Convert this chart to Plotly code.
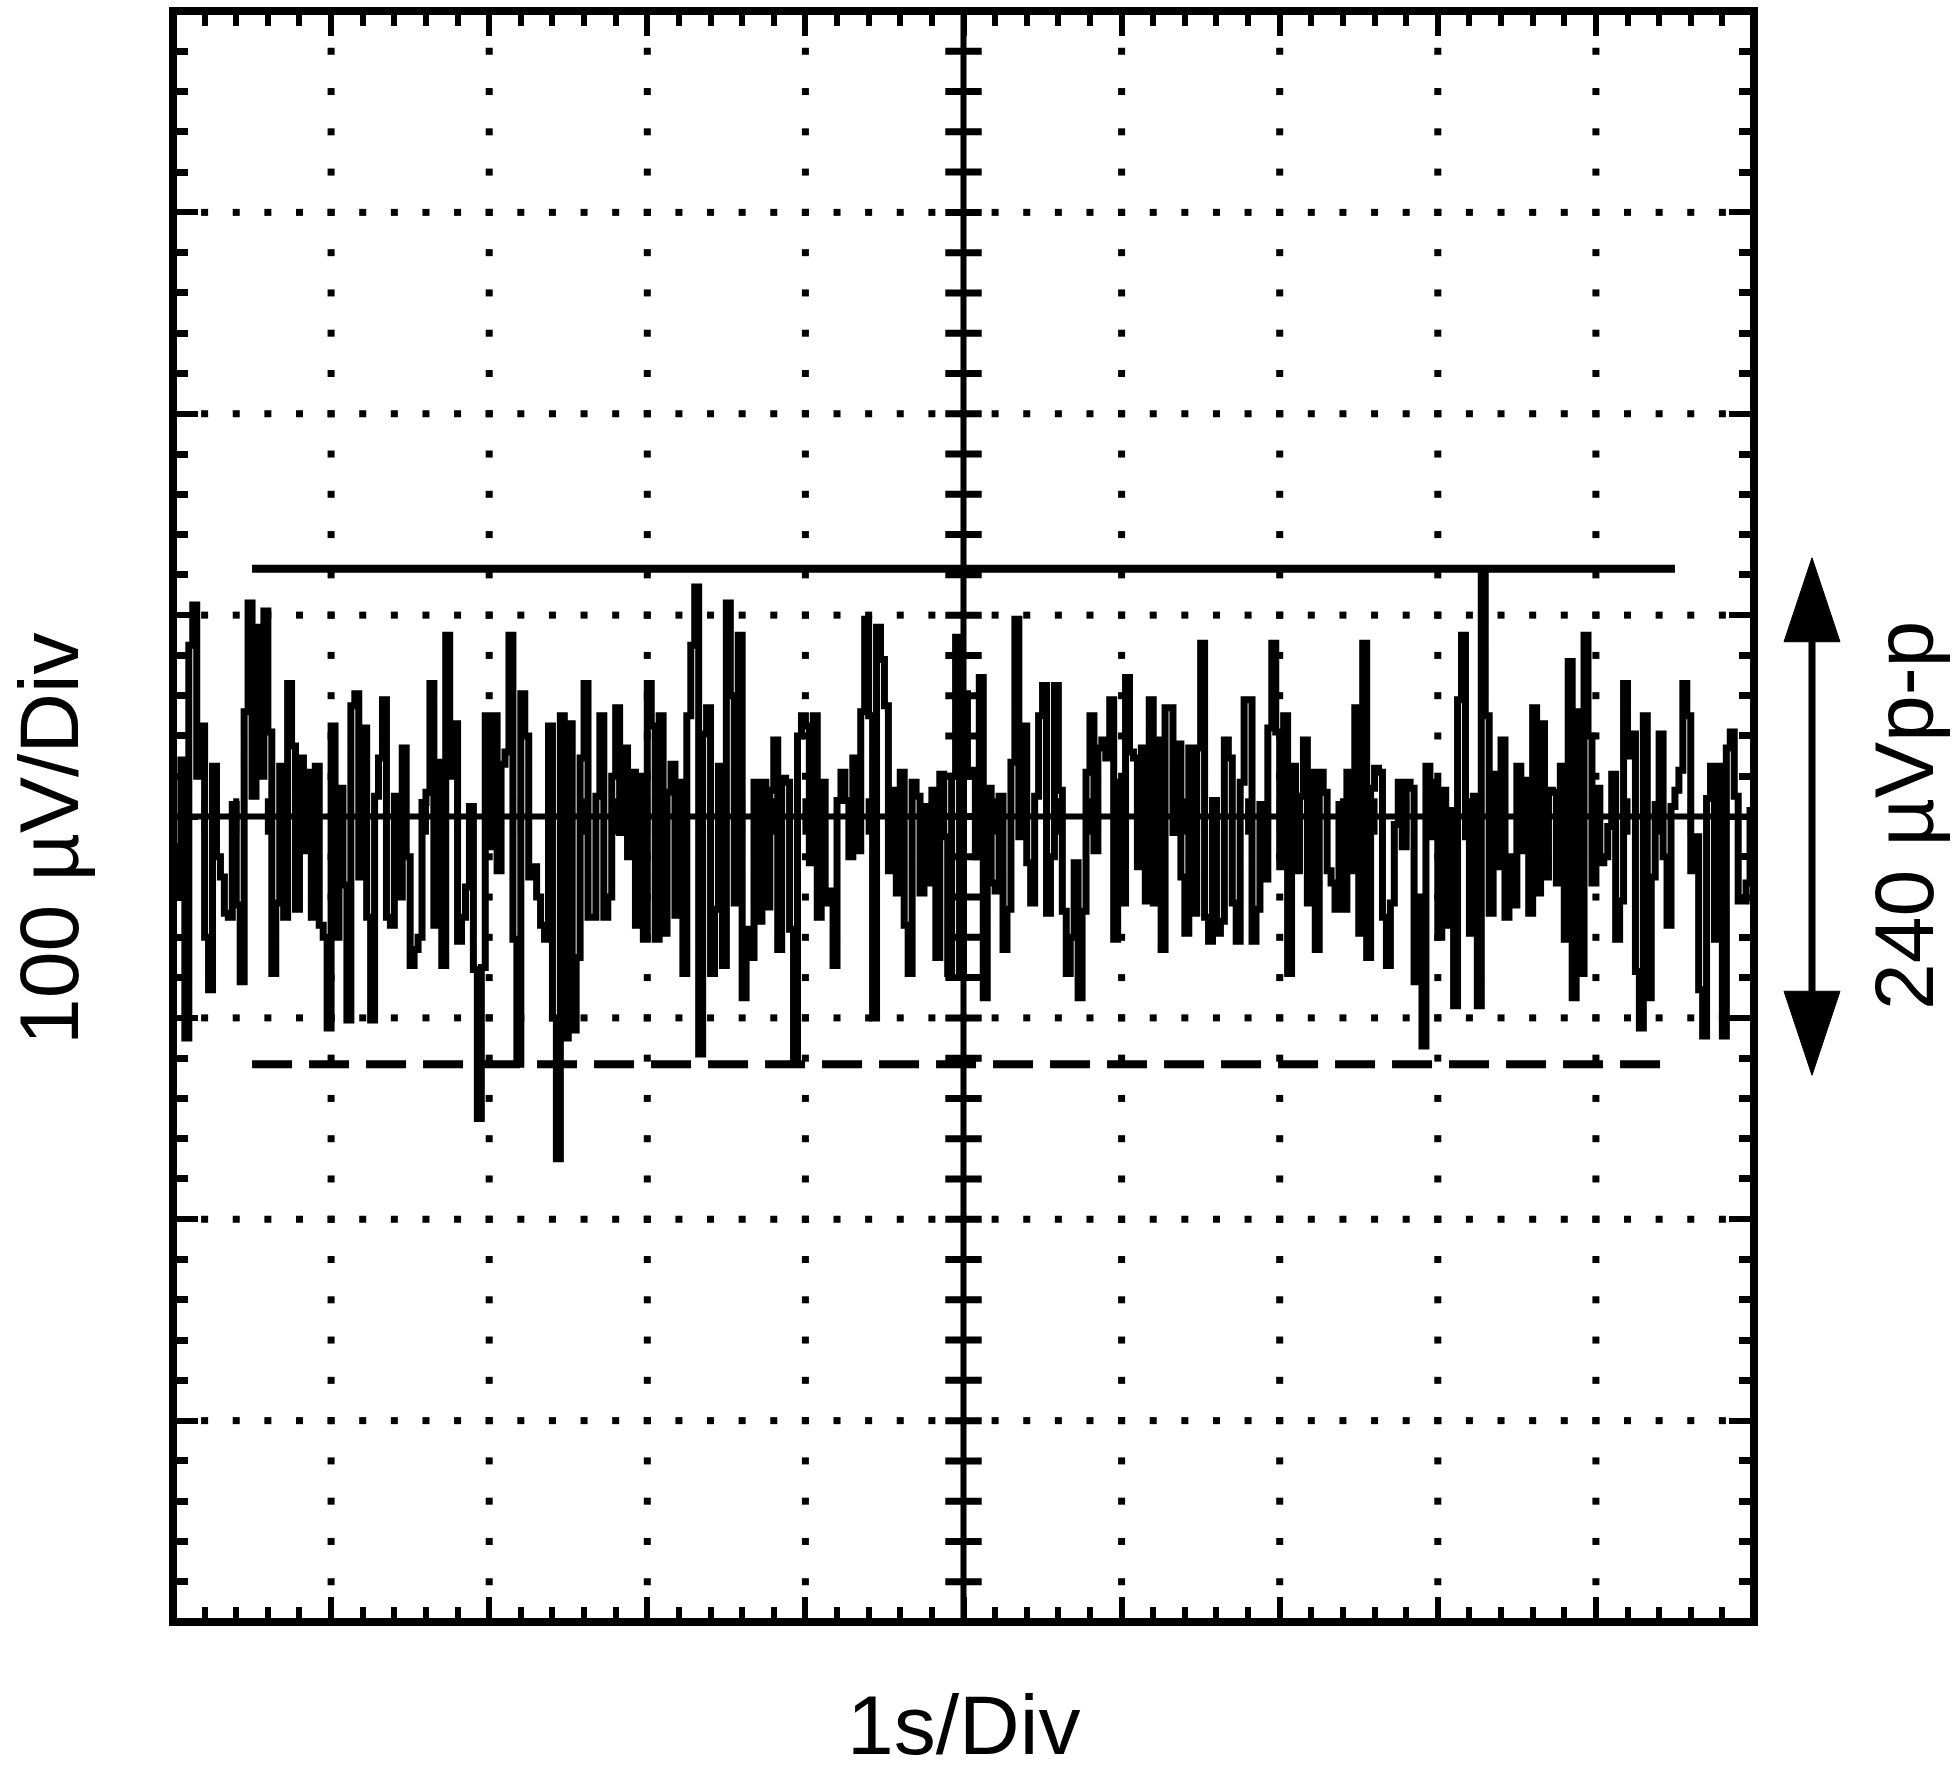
import numpy as np
import plotly.graph_objects as go

# ---------------- data ----------------
sample_interval_s = 0.025          # time between trace samples
noise_uV = [
    -15, -40, 28, -110, 85, 105, 20, 45, -60, -86,
    25, -20, -30, -48, -50, 6, -44, -82, 52, 106,
    10, 94, 20, 102, 42, -78, -43, 25, -50, 66,
    35, -46, 29, -17, 22, -50, 25, -54, -60, -105,
    45, -60, 14, -34, -101, 55, 61, -30, 44, -50,
    -101, 10, 29, 58, -50, -54, 10, -40, 34, -20,
    -74, -66, -60, 7, 12, 66, -54, 27, -74, 90,
    20, 46, -62, -50, -35, 5, -76, -150, -75, 50,
    -15,
    50, -27, 26, 32, 90, -61, -123, 61, 40, -30,
    -25, -40, -54, -61, 45, -100, -170, 50, -110, 46,
    -106, -70, 29, 66, -50, -50, 10, 50, -50, -40,
    20, 54, -8, 34, -20, 22, -54, 20, -61, 66,
    45, -61, 50, -58, 12, 26, -49, 17, -78, 50,
    85, 114, -118, 41, 54, -78, -46, 25, -74, 106,
    60, -43, 90, -90, -56, -70, 17, -52, 17, -45,
    13, 38, -66, 19, 17, -56, -122, 40, 50, 45,
    -23,
    50, -50, 17, -43, -37, -74, 8, 22, 8, -20,
    29, -17, 52, 98, 50, -100, 94, 78, 55, -27,
    13, -38, 22, -54, -78, 17, 10, -38, 5, -33,
    13, -70, 21, -10, -78, 20, 89, -78, 61, 20,
    23, -20, 69, -90, 14, -33, -37, 10, -66, -46,
    27, 98, -10, 45, -23, -43, 10, 50, 65, -48,
    -20, 65, 13, -47, -78, -60, -23, -90, -47, 22,
    50, -17, 34, 38, 29, 58, -61, 17, -43, 69,
    32,
    29, -25, 34, -42, 58, -43, 38, -66, 54, 54,
    -8, 36, -30, -58, 34, -48, 34, 86, -50, -62,
    8, -58, -52, 38, 29, -43, -62, 17, 58, 58,
    -62, -46, 6, -31, 44, 86, 42, -25, 50, -78,
    25, -27, 10, 38, -43, 22, -66, 22, 12, -27,
    -33, -46, 6, -46, 22, -27, 54, -58, 86, -70,
    14, 24, 22, -50, -74, -43, -4, 17, -15, 17,
    14, -82, -40, -114, 25, -10, 17, -60, 13, -54,
    3,
    -94, 58, 90, -10, -58, 10, -94, 123, 50, -48,
    21, -25, 38, -50, -20, -44, 25, -17, 18, -48,
    54, -38, 46, -30, 13, 12, -33, 25, -61, 77,
    -90, 52, -78, 90, 40, -33, 14, -23, -20, -5,
    21, -61, -42, 66, 30, 41, -77, -105, 50, -90,
    -30, 6, 41, -20, -54, 5, 13, 23, 66, 50,
    -27, -10, -86, -109, 9, 25, -61, 25, -109, 34,
    42, 10, -42, -42, -33, 3, -20,
]
cursor_high_uV = 123
cursor_low_uV = -123
cursor_start_s = 0.5
cursor_end_s = 9.5

x_title = "1s/Div"
y_title = "100 µV/Div"
pp_title = "240 µVp-p"

x_range = [0.0, 10.0]      # seconds (10 divisions)
y_range = [-400.0, 400.0]  # µV (8 divisions)
x_div = 1.0
y_div = 100.0
minor_per_div = 5

# ---------------- derived ----------------
t_s = np.arange(len(noise_uV)) * sample_interval_s

x_center = (x_range[0] + x_range[1]) / 2
y_center = (y_range[0] + y_range[1]) / 2
x_major = np.arange(x_range[0] + x_div, x_range[1] - 1e-9, x_div)
y_major = np.arange(y_range[0] + y_div, y_range[1] - 1e-9, y_div)
x_minor = np.arange(x_range[0], x_range[1] + 1e-9, x_div / minor_per_div)
y_minor = np.arange(y_range[0], y_range[1] + 1e-9, y_div / minor_per_div)

dot_x, dot_y = [], []
for gx in x_major:
    if abs(gx - x_center) < 1e-9:
        continue
    for yy in y_minor[1:-1]:
        dot_x.append(gx)
        dot_y.append(yy)
for gy in y_major:
    if abs(gy - y_center) < 1e-9:
        continue
    for xx in x_minor[1:-1]:
        dot_x.append(xx)
        dot_y.append(gy)

BLACK = "#000000"
FONT = "Liberation Sans, Arial, Helvetica, sans-serif"

# page layout (body margin is removed, so figure pixels == page pixels)
W, H = 1960, 1781
PLOT_L, PLOT_R, PLOT_T, PLOT_B = 173, 1754, 11, 1622
ML, MT = PLOT_L, PLOT_T
MR, MB = W - PLOT_R, H - PLOT_B
PW, PH = PLOT_R - PLOT_L, PLOT_B - PLOT_T


def page_to_paper_x(px):
    return (px - PLOT_L) / PW


def page_to_paper_y(py_):
    return (PLOT_B - py_) / PH


fig = go.Figure()

# dotted graticule
fig.add_trace(go.Scatter(
    x=dot_x, y=dot_y, mode="markers",
    marker=dict(symbol="square", size=7, color=BLACK, line=dict(width=0)),
    hoverinfo="skip"))

# centre axes with cross ticks
fig.add_trace(go.Scatter(x=[x_center, x_center], y=y_range, mode="lines",
                         line=dict(color=BLACK, width=6), hoverinfo="skip"))
fig.add_trace(go.Scatter(x=x_range, y=[y_center, y_center], mode="lines",
                         line=dict(color=BLACK, width=6), hoverinfo="skip"))
fig.add_trace(go.Scatter(
    x=[x_center] * len(y_minor), y=y_minor, mode="markers",
    marker=dict(symbol="line-ew", size=26, line=dict(width=7, color=BLACK)),
    hoverinfo="skip"))
fig.add_trace(go.Scatter(
    x=x_minor, y=[y_center] * len(x_minor), mode="markers",
    marker=dict(symbol="line-ns", size=26, line=dict(width=6, color=BLACK)),
    hoverinfo="skip"))

# cursors
fig.add_trace(go.Scatter(x=[cursor_start_s, cursor_end_s],
                         y=[cursor_high_uV, cursor_high_uV], mode="lines",
                         line=dict(color=BLACK, width=8), hoverinfo="skip"))
fig.add_trace(go.Scatter(x=[cursor_start_s, cursor_end_s],
                         y=[cursor_low_uV, cursor_low_uV], mode="lines",
                         line=dict(color=BLACK, width=8, dash="40px,17px"),
                         hoverinfo="skip"))

# noise trace
fig.add_trace(go.Scatter(x=t_s, y=noise_uV, mode="lines",
                         line=dict(color=BLACK, width=7, shape="hv",
                                   simplify=False),
                         hoverinfo="skip"))

axis_common = dict(showgrid=False, zeroline=False, showline=False,
                   showticklabels=False, ticks="inside", mirror="ticks",
                   tickwidth=6, tickcolor=BLACK, fixedrange=True)
fig.update_xaxes(range=x_range, dtick=x_div, tick0=x_range[0], ticklen=25,
                 minor=dict(dtick=x_div / minor_per_div, ticks="inside",
                            ticklen=15, tickwidth=6, tickcolor=BLACK,
                            showgrid=False),
                 **axis_common)
fig.update_yaxes(range=y_range, dtick=y_div, tick0=y_range[0], ticklen=25,
                 minor=dict(dtick=y_div / minor_per_div, ticks="inside",
                            ticklen=15, tickwidth=7, tickcolor=BLACK,
                            showgrid=False),
                 **axis_common)


def py(v):
    return (v - y_range[0]) / (y_range[1] - y_range[0])


# frame
shapes = [dict(type="rect", xref="paper", yref="paper", x0=0, x1=1, y0=0, y1=1,
               line=dict(color=BLACK, width=8), layer="above")]

# double-headed arrow for the p-p span
arrow_x = page_to_paper_x(1812)
head_hw = 28 / PW
head_len = 84 / PH
tip_hi = py(cursor_high_uV + 5.5)
tip_lo = py(cursor_low_uV - 5.5)
shapes.append(dict(type="line", xref="paper", yref="paper",
                   x0=arrow_x, x1=arrow_x, y0=tip_hi - head_len, y1=tip_lo + head_len,
                   line=dict(color=BLACK, width=7)))
shapes.append(dict(type="path", xref="paper", yref="paper",
                   path=f"M{arrow_x},{tip_hi} L{arrow_x - head_hw},{tip_hi - head_len} "
                        f"L{arrow_x + head_hw},{tip_hi - head_len} Z",
                   fillcolor=BLACK, line=dict(color=BLACK, width=1)))
shapes.append(dict(type="path", xref="paper", yref="paper",
                   path=f"M{arrow_x},{tip_lo} L{arrow_x - head_hw},{tip_lo + head_len} "
                        f"L{arrow_x + head_hw},{tip_lo + head_len} Z",
                   fillcolor=BLACK, line=dict(color=BLACK, width=1)))

label_font = dict(family=FONT, size=84, color=BLACK)
annotations = [
    dict(text=x_title, xref="paper", yref="paper",
         x=page_to_paper_x(963.5), y=page_to_paper_y(1725),
         xanchor="center", yanchor="middle", showarrow=False, font=label_font,
         borderpad=0),
    dict(text=y_title, xref="paper", yref="paper",
         x=page_to_paper_x(49), y=page_to_paper_y(839),
         xanchor="center", yanchor="middle", borderpad=0,
         textangle=-90, showarrow=False, font=label_font),
    dict(text=pp_title, xref="paper", yref="paper",
         x=page_to_paper_x(1904), y=page_to_paper_y(816),
         xanchor="center", yanchor="middle", borderpad=0,
         textangle=-90, showarrow=False, font=label_font),
]

fig.update_layout(
    width=W, height=H, autosize=False,
    margin=dict(l=ML, r=MR, t=MT, b=MB, pad=0),
    paper_bgcolor="white", plot_bgcolor="white",
    showlegend=False, shapes=shapes, annotations=annotations,
    font=dict(family=FONT, color=BLACK),
)

fig.write_html("out.html", config={"displayModeBar": False},
               post_script="document.body.style.margin='0px';"
                           "document.body.style.overflow='hidden';")
